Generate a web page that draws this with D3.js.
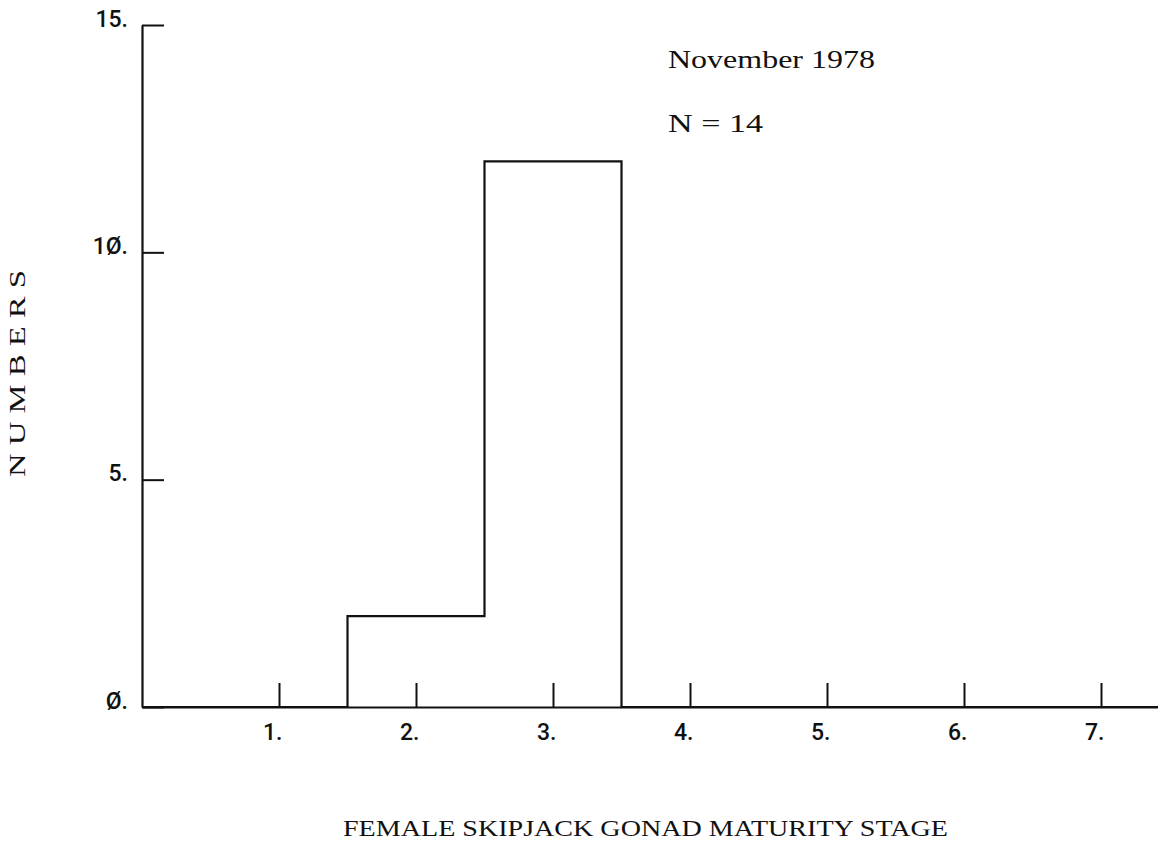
<!DOCTYPE html>
<html>
<head>
<meta charset="utf-8">
<script src="https://cdn.jsdelivr.net/npm/d3@7"></script>
<style>
  html, body { margin: 0; padding: 0; background: #fff; }
  svg { display: block; }
</style>
</head>
<body>
<svg id="chart" width="1158" height="846"></svg>
<script>
// ---- data ----
const stages = [1, 2, 3, 4, 5, 6, 7];
const counts = [0, 2, 12, 0, 0, 0, 0];
const xTickLabels = ["1.", "2.", "3.", "4.", "5.", "6.", "7."];
const yTicks = [0, 5, 10, 15];
const yTickLabels = ["Ø.", "5.", "1Ø.", "15."];
const titleLines = ["November 1978", "N = 14"];
const xTitle = "FEMALE SKIPJACK GONAD MATURITY STAGE";
const yTitle = "N U M B E R S";

// ---- layout ----
const svg = d3.select("#chart");
const x = d3.scaleLinear().domain([0, 7.5]).range([142, 142 + 7.5 * 137]);
const y = d3.scaleLinear().domain([0, 15]).range([707, 25]);

const ink = "#111";
const tickFont = "Roboto, 'DejaVu Sans', sans-serif";
const typeFont = "'Liberation Serif', 'DejaVu Serif', serif";

// histogram step outline
const pts = stages.map((s, i) => [s - 0.5, counts[i]]);
pts.unshift([0, 0]);
pts.push([stages[stages.length - 1] + 0.5, 0]);
const stepLine = d3.line().x(d => x(d[0])).y(d => y(d[1])).curve(d3.curveStepAfter);
svg.append("path")
  .attr("d", stepLine(pts))
  .attr("fill", "none")
  .attr("stroke", ink)
  .attr("stroke-width", 2.2);

// y axis
const yAxis = d3.axisLeft(y)
  .tickValues(yTicks)
  .tickFormat((d, i) => yTickLabels[i])
  .tickSizeInner(-22)
  .tickSizeOuter(0)
  .tickPadding(14);
const gy = svg.append("g").attr("transform", `translate(${x(0)},0)`).call(yAxis);
gy.select(".domain").attr("stroke", ink).attr("stroke-width", 2.2);
gy.selectAll(".tick line").attr("stroke", ink).attr("stroke-width", 2);
gy.selectAll(".tick text")
  .attr("font-family", tickFont)
  .attr("font-size", 23)
  .attr("font-weight", 500)
  .attr("fill", ink)
  .attr("dy", "0.05em");

// x axis
const xAxis = d3.axisBottom(x)
  .tickValues(stages)
  .tickFormat((d, i) => xTickLabels[i])
  .tickSizeInner(-24)
  .tickSizeOuter(0)
  .tickPadding(0);
const gx = svg.append("g").attr("transform", `translate(0,${y(0)})`).call(xAxis);
gx.select(".domain").attr("stroke", ink).attr("stroke-width", 2.2);
gx.selectAll(".tick line").attr("stroke", ink).attr("stroke-width", 2);
gx.selectAll(".tick text")
  .attr("font-family", tickFont)
  .attr("font-size", 23)
  .attr("font-weight", 500)
  .attr("fill", ink)
  .attr("text-anchor", "end")
  .attr("x", 3)
  .attr("y", 33)
  .attr("dy", 0);

// annotation text
svg.append("text").text(titleLines[0])
  .attr("x", 668).attr("y", 68)
  .attr("font-family", typeFont).attr("font-size", 25)
  .attr("textLength", 207).attr("lengthAdjust", "spacingAndGlyphs")
  .attr("fill", ink);
svg.append("text").text(titleLines[1])
  .attr("x", 668).attr("y", 132)
  .attr("font-family", typeFont).attr("font-size", 25)
  .attr("textLength", 95).attr("lengthAdjust", "spacingAndGlyphs")
  .attr("fill", ink);

// axis titles
svg.append("text").text(xTitle)
  .attr("x", 343).attr("y", 836)
  .attr("font-family", typeFont).attr("font-size", 24)
  .attr("textLength", 605).attr("lengthAdjust", "spacingAndGlyphs")
  .attr("fill", ink);
svg.append("text").text(yTitle)
  .attr("transform", "translate(25,477) rotate(-90)")
  .attr("font-family", typeFont).attr("font-size", 23)
  .attr("textLength", 207).attr("lengthAdjust", "spacingAndGlyphs")
  .attr("fill", ink);
</script>
</body>
</html>
